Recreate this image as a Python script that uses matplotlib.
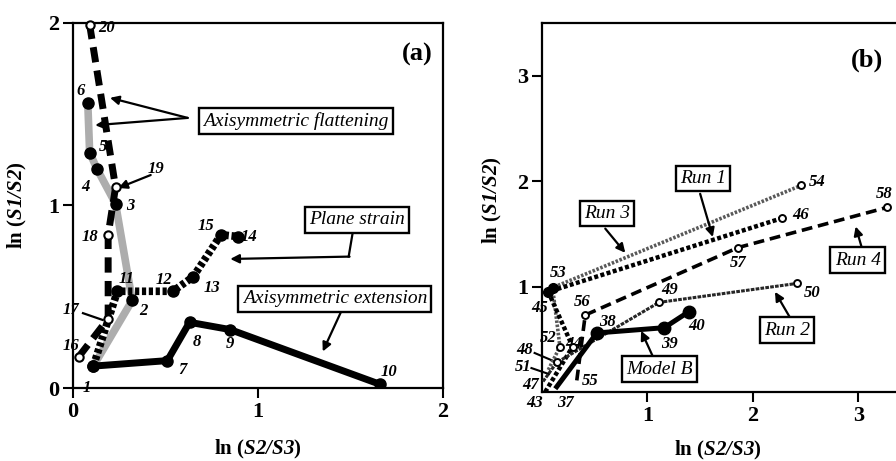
import matplotlib
matplotlib.use("Agg")
import matplotlib.pyplot as plt

plt.rcParams['font.family'] = ['Liberation Serif', 'DejaVu Serif']
plt.rcParams['mathtext.fontset'] = 'custom'
plt.rcParams['mathtext.rm'] = 'Liberation Serif:bold'
plt.rcParams['mathtext.bf'] = 'Liberation Serif:bold'
plt.rcParams['mathtext.bfit'] = 'Liberation Serif:italic:bold'
plt.rcParams['mathtext.it'] = 'Liberation Serif:italic:bold'

# panel (a): ln(S2/S3) vs ln(S1/S2)
flat1_id = [1, 2, 3, 4, 5, 6]
flat1_x = [0.11, 0.32, 0.23, 0.13, 0.09, 0.08]
flat1_y = [0.12, 0.48, 1.01, 1.20, 1.29, 1.56]

flat2_id = [16, 17, 18, 19, 20]
flat2_x = [0.03, 0.19, 0.19, 0.23, 0.09]
flat2_y = [0.17, 0.38, 0.84, 1.10, 1.99]

plane_id = [1, 11, 12, 13, 15, 14]
plane_x = [0.11, 0.24, 0.54, 0.65, 0.80, 0.89]
plane_y = [0.12, 0.53, 0.53, 0.61, 0.84, 0.83]

ext_id = [1, 7, 8, 9, 10]
ext_x = [0.11, 0.51, 0.63, 0.85, 1.66]
ext_y = [0.12, 0.15, 0.36, 0.32, 0.02]

# panel (b)
modelb_id = [37, 38, 39, 40]
modelb_x = [0.14, 0.52, 1.16, 1.39]
modelb_y = [0.05, 0.56, 0.61, 0.76]

run1_id = [43, 44, 45, 46]
run1_x = [0.03, 0.29, 0.06, 2.28]
run1_y = [0.00, 0.43, 0.95, 1.65]

run2_id = [47, 48, 49, 50]
run2_x = [0.01, 0.14, 1.11, 2.42]
run2_y = [0.10, 0.28, 0.85, 1.03]

run3_id = [51, 52, 53, 54]
run3_x = [0.06, 0.17, 0.10, 2.46]
run3_y = [0.21, 0.43, 0.99, 1.96]

run4_id = [55, 56, 57, 58]
run4_x = [0.33, 0.41, 1.86, 3.27]
run4_y = [0.11, 0.73, 1.37, 1.75]

ticks_a = [0, 1, 2]
ticks_b = [1, 2, 3]

# where the point numbers sit (data coords)
lab_a = {20: (0.18, 1.97), 6: (0.04, 1.63), 5: (0.16, 1.32), 4: (0.065, 1.10),
         19: (0.45, 1.20), 3: (0.31, 1.00), 18: (0.09, 0.83), 15: (0.72, 0.89),
         14: (0.95, 0.83), 11: (0.29, 0.60), 12: (0.49, 0.59), 13: (0.75, 0.55),
         2: (0.38, 0.42), 17: (-0.01, 0.43), 16: (-0.01, 0.23), 1: (0.076, 0.0),
         7: (0.59, 0.10), 8: (0.67, 0.25), 9: (0.85, 0.24), 10: (1.71, 0.09)}
lab_b = {53: (0.15, 1.13), 45: (-0.02, 0.80), 54: (2.61, 1.99), 46: (2.45, 1.68),
         58: (3.25, 1.88), 57: (1.86, 1.22), 56: (0.38, 0.85), 49: (1.21, 0.97),
         50: (2.56, 0.94), 38: (0.62, 0.66), 40: (1.47, 0.63), 39: (1.21, 0.46),
         52: (0.06, 0.51), 44: (0.30, 0.46), 48: (-0.16, 0.40), 51: (-0.18, 0.24),
         47: (-0.11, 0.07), 43: (-0.07, -0.10), 37: (0.22, -0.10), 55: (0.46, 0.10)}

num_font = dict(fontsize=12, fontweight='bold', fontstyle='italic',
                ha='center', va='center', clip_on=False)
box_style = dict(boxstyle='square,pad=0.22', fc='white', ec='black', lw=1.7)
arrow = dict(arrowstyle='-|>', color='black', lw=1.6, mutation_scale=13,
             shrinkA=0, shrinkB=0)


def style_axes(ax, ticks, xlim, ylim):
    ax.set_xlim(*xlim)
    ax.set_ylim(*ylim)
    ax.set_xticks(ticks)
    ax.set_yticks(ticks)
    for s in ax.spines.values():
        s.set_linewidth(1.6)
    ax.tick_params(direction='out', length=7, width=1.5, labelsize=16, pad=3)
    for t in ax.get_xticklabels() + ax.get_yticklabels():
        t.set_fontweight('bold')
    ax.set_xlabel(r'ln ($\mathbfit{S2/S3}$)', fontsize=15, fontweight='bold')
    ax.set_ylabel(r'ln ($\mathbfit{S1/S2}$)', fontsize=15, fontweight='bold')


fig = plt.figure(figsize=(8.96, 4.61), dpi=100)

# ---------------- panel (a)
ax = fig.add_axes([73 / 896, 73 / 461, 370 / 896, 365 / 461])
style_axes(ax, ticks_a, (0, 2), (0, 2))
ax.xaxis.set_label_coords(0.5, -0.138)
ax.yaxis.set_label_coords(-0.12, 0.5)

ax.plot(flat1_x, flat1_y, color='0.68', lw=5.5, solid_capstyle='round', zorder=2)
ax.plot(flat1_x, flat1_y, 'o', color='black', ms=8, zorder=6)
ax.plot(flat2_x, flat2_y, color='black', lw=5, linestyle=(0, (2.2, 1.2)), zorder=3)
ax.plot(flat2_x, flat2_y, 'o', mfc='white', mec='black', mew=1.5, ms=6, zorder=7, clip_on=False)
ax.plot(plane_x, plane_y, color='black', lw=5.5, linestyle=(0, (0.55, 0.35)), zorder=4)
ax.plot(plane_x[1:], plane_y[1:], 'o', color='black', ms=8, zorder=6)
ax.plot(ext_x, ext_y, color='black', lw=5, solid_joinstyle='round', zorder=5)
ax.plot(ext_x, ext_y, 'o', color='black', ms=8, zorder=6)

for k, (x, y) in lab_a.items():
    ax.text(x, y, str(k), **num_font)

ax.annotate('', xy=(0.20, 1.59), xytext=(0.62, 1.48), arrowprops=arrow)
ax.annotate('', xy=(0.12, 1.44), xytext=(0.62, 1.48), arrowprops=arrow)
ax.text(1.205, 1.463, 'Axisymmetric flattening', fontsize=14, fontstyle='italic',
        ha='center', va='center', bbox=box_style, zorder=10)
ax.plot([1.51, 1.49], [0.84, 0.72], color='black', lw=1.6)
ax.annotate('', xy=(0.85, 0.707), xytext=(1.495, 0.72), arrowprops=arrow)
ax.text(1.535, 0.921, 'Plane strain', fontsize=14, fontstyle='italic',
        ha='center', va='center', bbox=box_style, zorder=10)
ax.annotate('', xy=(1.35, 0.20), xytext=(1.45, 0.42), arrowprops=arrow)
ax.text(1.416, 0.488, 'Axisymmetric extension', fontsize=14, fontstyle='italic',
        ha='center', va='center', bbox=box_style, zorder=10)
ax.annotate('', xy=(0.245, 1.096), xytext=(0.42, 1.167), arrowprops=arrow)
ax.plot([0.054, 0.16], [0.41, 0.373], color='black', lw=1.6, clip_on=False)
ax.text(1.86, 1.825, '(a)', fontsize=19, fontweight='bold', ha='center', va='center')

# ---------------- panel (b)
bx = fig.add_axes([542 / 896, 69 / 461, 369 / 896, 369 / 461])
style_axes(bx, ticks_b, (0, 3.5), (0, 3.5))
bx.xaxis.set_label_coords(0.477, -0.128)
bx.yaxis.set_label_coords(-0.103, 0.52)

bx.plot(run3_x, run3_y, color='0.35', lw=2.6, linestyle=(0, (0.7, 0.45)), zorder=3)
bx.plot(run1_x, run1_y, color='black', lw=3.2, linestyle=(0, (0.9, 0.55)), zorder=3)
bx.plot(run2_x, run2_y, color='0.15', lw=2.2, linestyle=(0, (1.2, 0.4)), zorder=3)
bx.plot(run4_x, run4_y, color='black', lw=2.6, linestyle=(0, (3, 1.6)), zorder=3)
bx.plot(modelb_x, modelb_y, color='black', lw=3.6, solid_joinstyle='round', zorder=4)

for xs, ys in [(run3_x, run3_y), (run1_x, run1_y), (run2_x, run2_y), (run4_x, run4_y)]:
    bx.plot(xs[1:], ys[1:], 'o', mfc='white', mec='black', mew=1.4, ms=5, zorder=5)
bx.plot(modelb_x[1:], modelb_y[1:], 'o', color='black', ms=9, zorder=6)
bx.plot([run1_x[2], run3_x[2]], [run1_y[2], run3_y[2]], 'o', color='black', ms=7, zorder=6)

for k, (x, y) in lab_b.items():
    bx.text(x, y, str(k), **num_font)

for name, (tx, ty), (hx, hy), (ax0, ay0) in [
        ('Run 1', (1.526, 2.027), (1.62, 1.47), (1.50, 1.88)),
        ('Run 3', (0.616, 1.695), (0.79, 1.32), (0.60, 1.55)),
        ('Run 4', (2.995, 1.25), (2.975, 1.57), (3.03, 1.38)),
        ('Run 2', (2.322, 0.587), (2.21, 0.95), (2.35, 0.71)),
        ('Model B', (1.118, 0.218), (0.94, 0.58), (1.05, 0.34))]:
    bx.annotate('', xy=(hx, hy), xytext=(ax0, ay0), arrowprops=arrow)
    bx.text(tx, ty, name, fontsize=14, fontstyle='italic', ha='center',
            va='center', bbox=box_style, zorder=10)

bx.plot([-0.07, 0.13], [0.37, 0.285], color='black', lw=1.5, clip_on=False)
bx.plot([-0.10, 0.066], [0.227, 0.17], color='black', lw=1.5, clip_on=False)
bx.text(3.08, 3.144, '(b)', fontsize=19, fontweight='bold', ha='center', va='center')

fig.savefig('out.png', dpi=100)
